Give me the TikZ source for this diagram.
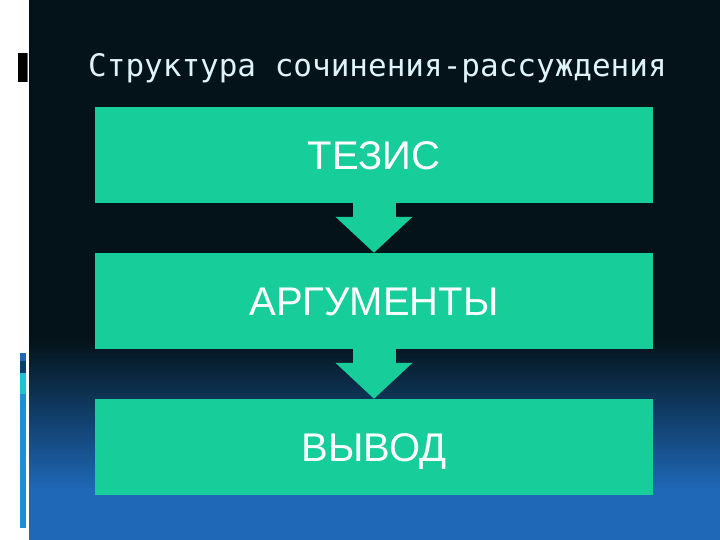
\documentclass[tikz,border=0pt]{standalone}
\usepackage{fontspec}
\setmainfont{Liberation Sans}
\newfontfamily\titlefont{DejaVu Sans Mono}
\usetikzlibrary{arrows.meta}

\definecolor{slidebg}{RGB}{4,19,25}
\definecolor{slideblue}{RGB}{31,104,184}
\definecolor{boxteal}{RGB}{23,206,154}
\definecolor{titlecol}{RGB}{222,244,248}
\definecolor{stripblue}{RGB}{26,144,214}
\definecolor{stripdark}{RGB}{12,62,96}
\definecolor{stripteal}{RGB}{30,196,206}

\tikzset{
  stage/.style={fill=boxteal, minimum width=558pt, minimum height=96pt,
    inner sep=0pt, text=white, text height=28.6pt, text depth=0pt,
    font=\fontsize{40}{46}\selectfont},
  flow/.style={boxteal, line width=43pt, -{Triangle[length=36pt,width=75pt]}}
}

\begin{document}
\begin{tikzpicture}[x=1pt,y=-1pt]
    \useasboundingbox (0,0) rectangle (720,540);
    % background
    \fill [white] (0,0) rectangle (720,540);
    \fill [slidebg] (29,0) rectangle (720,341);
    \shade [top color=slidebg, bottom color=slideblue] (29,340) rectangle (720,490);
    \fill [slideblue] (29,489) rectangle (720,540);
    % left strip marks
    \fill [black] (18,53) rectangle (27,82);
    \fill [black!60] (27,53) rectangle (28,82);
    \fill [slideblue] (20,353) rectangle (26,361);
    \fill [stripdark] (20,361) rectangle (26,373);
    \fill [stripteal] (20,373) rectangle (26,394);
    \fill [stripblue] (20,394) rectangle (26,528);
    % title
    \node [anchor=base west, inner sep=0pt, text=titlecol,
      font=\titlefont\fontsize{31}{36}\selectfont] (title) at (88,77)
      {Структура сочинения-рассуждения};
    % stages
    \node [stage] (thesis) at (374,155) {ТЕЗИС};
    \node [stage] (args) at (374,301) {АРГУМЕНТЫ};
    \node [stage] (concl) at (374,447) {ВЫВОД};
    \draw [flow] (thesis.south) -- (args.north);
    \draw [flow] (args.south) -- (concl.north);
\end{tikzpicture}
\end{document}
